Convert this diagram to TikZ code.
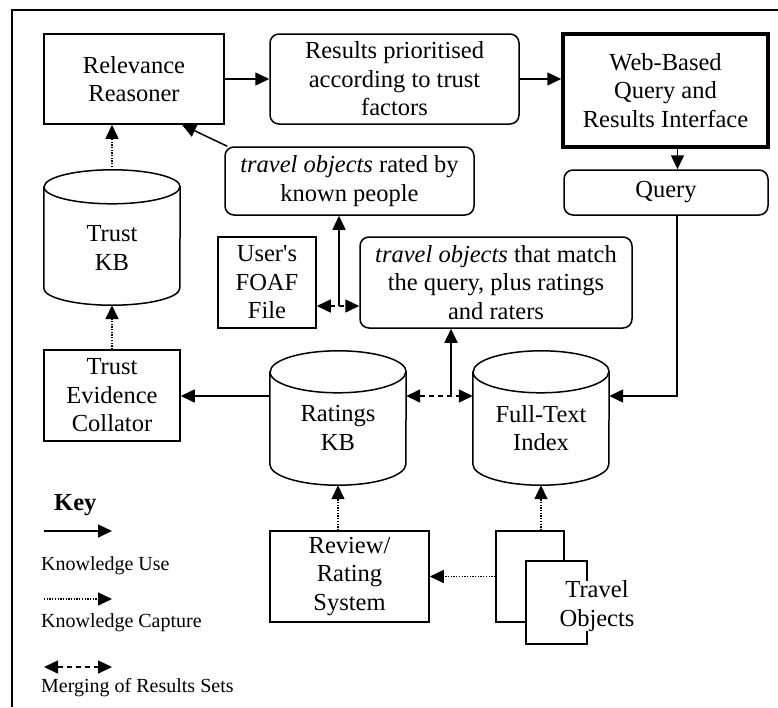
\documentclass[tikz,border=0pt]{standalone}
\usepackage{fontspec}
\setmainfont{Liberation Serif}[Ligatures=TeXOff]
\usetikzlibrary{arrows.meta,calc}
\newcommand{\dbcyl}[2]{%
  \draw[lw, fill=white] ([yshift=-#2pt]#1.north west) -- ([yshift=#2pt]#1.south west)
    arc[start angle=180, end angle=360, x radius=68pt, y radius=#2pt]
    -- ([yshift=-#2pt]#1.north east)
    arc[start angle=0, end angle=180, x radius=68pt, y radius=#2pt] -- cycle;
  \draw[lw] ([yshift=-#2pt]#1.north west)
    arc[start angle=180, end angle=360, x radius=68pt, y radius=#2pt];}
\begin{document}
\begin{tikzpicture}[x=1pt,y=-1pt,
  lw/.style={line width=1.5pt},
  mainfont/.style={font=\fontsize{24.5}{28.5}\selectfont},
  box/.style={draw, lw, align=center, inner sep=0pt, mainfont},
  rbox/.style={box, rounded corners=9pt},
  txt/.style={align=center, inner sep=0pt, mainfont},
  keytxt/.style={anchor=west, inner sep=0pt, font=\fontsize{20}{24}\selectfont},
  kuse/.style={lw, -{Triangle[length=14pt,width=13pt]}},
  kcap/.style={kuse, dash pattern=on 1.3pt off 1.4pt},
  kmerge/.style={lw, {Triangle[length=14pt,width=13pt]}-{Triangle[length=14pt,width=13pt]}, dash pattern=on 5pt off 4pt},
]
\useasboundingbox (0,0) rectangle (778,707);
\fill[white] (0,0) rectangle (778,707);
% frame
\draw[lw] (12,707) -- (12,10) -- (778,10);

% top row
\node[box, minimum width=180pt, minimum height=90pt] (rr) at (134,79) {Relevance\\Reasoner};
\node[rbox, minimum width=249pt, minimum height=90pt] (res) at (394.5,79) {Results prioritised\\according to trust\\factors};
\node[box, line width=3.5pt, minimum width=205pt, minimum height=113pt] (web) at (665.5,90.5) {Web-Based\\Query and\\Results Interface};
\node[rbox, minimum width=204pt, minimum height=45pt] (query) at (666,192.5) {Query};
\node[rbox, minimum width=249pt, minimum height=68pt] (rated) at (349.5,181) {\textit{travel objects} rated by\\known people};

% trust KB cylinder
\node[minimum width=136pt, minimum height=135pt, inner sep=0pt] (tkb) at (112,237.5) {};
\dbcyl{tkb}{17}
\node[txt] (tkbl) at (112,248) {Trust\\KB};

\node[box, minimum width=98pt, minimum height=91pt] (foaf) at (267,282.5) {User's\\FOAF\\File};
\node[rbox, minimum width=272pt, minimum height=91pt] (match) at (496,282.5) {\textit{travel objects} that match\\the query, plus ratings\\and raters};

\node[box, minimum width=136pt, minimum height=91pt] (tec) at (112,395.5) {Trust\\Evidence\\Collator};

% ratings and full text cylinders
\node[minimum width=136pt, minimum height=134pt, inner sep=0pt] (rkb) at (338,418) {};
\dbcyl{rkb}{21}
\node[txt] (rkbl) at (338,428) {Ratings\\KB};
\node[minimum width=136pt, minimum height=134pt, inner sep=0pt] (fti) at (541,418) {};
\dbcyl{fti}{21}
\node[txt] (ftil) at (541,428) {Full-Text\\Index};

\node[box, minimum width=159pt, minimum height=91pt] (rev) at (349.5,576.5) {Review/\\Rating\\System};

% travel objects
\node[draw, lw, fill=white, minimum width=68pt, minimum height=91pt, inner sep=0pt] (tob) at (530,576.5) {};
\node[draw, lw, fill=white, minimum width=61pt, minimum height=83pt, inner sep=0pt] (tof) at (556.5,602.5) {};
\node[txt, fill=white] (tobl) at (597,606) {Travel\\Objects};

% connectors
\draw[kuse] (rr) -- (res);
\draw[kuse] (res.east) -- (res.east -| web.west);
\draw[kuse] ([xshift=12pt]web.south) -- ([xshift=12pt]web.south |- query.north);
\draw[kuse] ([xshift=3pt]rated.north west) -- ([xshift=48pt]rr.south);
\draw[kcap] (tkb.north) -- (tkb.north |- rr.south);
\draw[kcap] (tec.north) -- (tkb.south);
\draw[kuse] ([yshift=22pt]rkb.west) -- ([yshift=22pt]rkb.west -| tec.east);
\draw[kmerge] ([yshift=22pt]rkb.east) -- ([yshift=22pt]fti.west);
\coordinate (mj) at (451,396);
\draw[kuse] (mj) -- (mj |- match.south);
\draw[kuse] ([xshift=11pt]query.south) |- ([yshift=22pt]fti.east);
\draw[kmerge] ([yshift=-23.5pt]foaf.east) -- ([yshift=-23.5pt]foaf.east -| match.west);
\coordinate (fj) at (339,306);
\draw[kuse] (fj) -- (fj |- rated.south);
\draw[kcap] (rev.north -| rkb.south) -- (rkb.south);
\draw[kcap] (tob.west) -- (tob.west -| rev.east);
\draw[kcap] (tob.north -| fti.south) -- (fti.south);

% key
\node[anchor=west, inner sep=0pt, font=\fontsize{24.5}{28.5}\selectfont\bfseries] (key) at (54,505) {Key};
\coordinate (k1a) at (44,531); \coordinate (k1b) at (112,531);
\draw[kuse] (k1a) -- (k1b);
\node[keytxt] (k1t) at (41,566) {Knowledge Use};
\coordinate (k2a) at (44,599); \coordinate (k2b) at (112,599);
\draw[kcap] (k2a) -- (k2b);
\node[keytxt] (k2t) at (41,623) {Knowledge Capture};
\coordinate (k3a) at (44,667); \coordinate (k3b) at (112,667);
\draw[kmerge] (k3a) -- (k3b);
\node[keytxt] (k3t) at (41,688) {Merging of Results Sets};
\end{tikzpicture}
\end{document}
